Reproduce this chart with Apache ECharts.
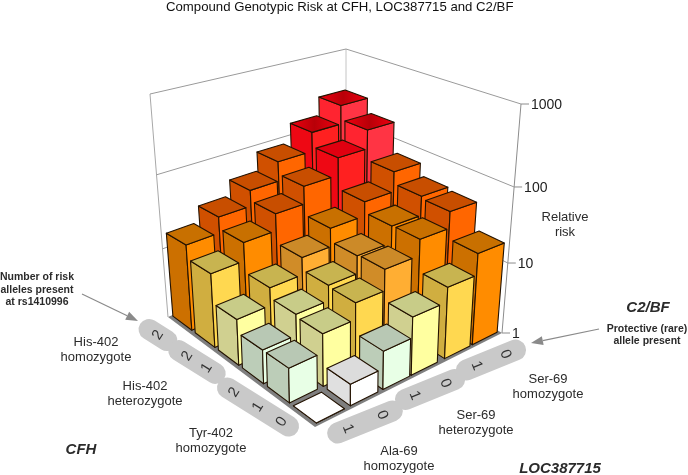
<!DOCTYPE html>
<html>
<head>
<meta charset="utf-8">
<script src="https://cdn.jsdelivr.net/npm/echarts@6/dist/echarts.min.js"></script>
<style>html,body{margin:0;background:#fff}#chart{width:688px;height:475px}</style>
</head>
<body>
<div id="chart"></div>
<script>
// relative risk: rows go from Tyr-402 0 (front) to His-402 homozygote 2 (back-left),
// columns from Ala-69 1 (front) to Ser-69 homozygote 0 (right)
const riskRows = [
  [1.0, 1.9, 3.2, 6.0, 9.4, 18.3],
  [2.8, 4.9, 8.1, 15.5, 25.4, 42.4],
  [2.8, 5.3, 8.5, 14.8, 24.8, 45.4],
  [4.2, 7.3, 12.5, 22.4, 35.1, 66.2],
  [10.5, 18.6, 31.6, 55.0, 95.0, 173.1],
  [16.2, 26.8, 44.0, 81.5, 149.4, 270.9]
];
const tickValues = [1, 10, 100, 1000];
const tickLabels = ['1', '10', '100', '1000'];
const cfhDigits = [['2'], ['2', '1'], ['2', '1', '0']];
const c2bfDigits = [['1', '0'], ['1', '0'], ['1', '0']];
const cfhGenotypes = ['His-402\nhomozygote', 'His-402\nheterozygote', 'Tyr-402\nhomozygote'];
const locGenotypes = ['Ala-69\nhomozygote', 'Ser-69\nheterozygote', 'Ser-69\nhomozygote'];

// colour steps by risk, faces are [top, left, right]
const riskBreaks = [1.5, 2.5, 3.5, 6.5, 11, 16, 26, 90, 160, Infinity];
const riskFaces = [
  ['#ffffff', '#ffffff', '#ffffff'],
  ['#dcdcdc', '#e0e0e0', '#ffffff'],
  ['#b8c8b4', '#bccdb8', '#e8ffe6'],
  ['#c8cc88', '#d0d090', '#ffffa0'],
  ['#c8b450', '#d0ae40', '#ffd850'],
  ['#cc8a28', '#d08c28', '#ffae33'],
  ['#c87000', '#cc7000', '#ff8c00'],
  ['#c84e00', '#d05000', '#ff6600'],
  ['#e00010', '#ee0814', '#ff2020'],
  ['#e00010', '#ff2430', '#ff3444']
];

const GRID_W = 600, GRID_H = 300;
const barStartU = [0.12, 1.15, 2.16, 3.06, 4.15, 5.08];
const barStartV = [0.1, 1.1, 2.1, 3.1, 4.1, 5.1];
const BAR_W = 0.85;

function makeHomography(p0, p1, p2, p3) {
  const sx = p0[0] - p1[0] + p2[0] - p3[0], sy = p0[1] - p1[1] + p2[1] - p3[1];
  const dx1 = p1[0] - p2[0], dx2 = p3[0] - p2[0], dy1 = p1[1] - p2[1], dy2 = p3[1] - p2[1];
  const det = dx1 * dy2 - dx2 * dy1;
  const g = (sx * dy2 - dx2 * sy) / det, h = (dx1 * sy - sx * dy1) / det;
  const a = p1[0] - p0[0] + g * p1[0], b = p3[0] - p0[0] + h * p3[0];
  const d = p1[1] - p0[1] + g * p1[1], e = p3[1] - p0[1] + h * p3[1];
  return (s, t) => {
    const w = g * s + h * t + 1;
    return [(a * s + b * t + p0[0]) / w, (d * s + e * t + p0[1]) / w];
  };
}
// corners of the floor and of the roof of the box, front / right / back / left
const floorAt = makeHomography([315, 427], [502, 333], [346, 240], [168, 317]);
const roofAt = makeHomography([312, 156], [521, 104], [346, 49], [150, 94]);

function project(u, v, zf) {
  const F = floorAt(u / 6, v / 6), T = roofAt(u / 6, v / 6);
  const k = zf * 0.88, d = 1 - zf + k;
  return [((1 - zf) * F[0] + k * T[0]) / d, ((1 - zf) * F[1] + k * T[1]) / d];
}
// height through the hidden log axis
function heightOf(api, risk) {
  return (GRID_H - api.coord([0, risk])[1]) / GRID_H;
}

function renderBar(params, api) {
  const u = api.value(0), risk = api.value(1), v = api.value(2);
  const u0 = barStartU[u], u1 = u0 + BAR_W, v0 = barStartV[v], v1 = v0 + BAR_W;
  const h = heightOf(api, risk);
  const faces = riskFaces[riskBreaks.findIndex(b => risk < b)];
  const stroke = { stroke: '#231200', lineWidth: 1.1, lineJoin: 'round' };
  let topFill = faces[0];
  if (risk > 140) {
    topFill = new echarts.graphic.LinearGradient(0, 0, 1, 0, [
      { offset: 0, color: '#f00010' }, { offset: 0.5, color: '#b80008' }, { offset: 1, color: '#f00010' }
    ]);
  }
  const poly = (pts, fill) => ({
    type: 'polygon',
    shape: { points: pts.map(p => project(p[0], p[1], p[2])) },
    style: Object.assign({ fill: fill }, stroke)
  });
  return {
    type: 'group',
    children: [
      poly([[u0, v0, 0], [u0, v1, 0], [u0, v1, h], [u0, v0, h]], faces[1]),
      poly([[u0, v0, 0], [u1, v0, 0], [u1, v0, h], [u0, v0, h]], faces[2]),
      poly([[u0, v0, h], [u1, v0, h], [u1, v1, h], [u0, v1, h]], topFill)
    ]
  };
}

function renderWallTick(params, api) {
  const risk = api.value(1), label = tickLabels[params.dataIndex];
  const h = heightOf(api, risk);
  const a = project(0, 6, h), b = project(6, 6, h), c = project(6, 0, h);
  const children = [
    { type: 'line', shape: { x1: c[0], y1: c[1], x2: c[0] + 8, y2: c[1] }, style: { stroke: '#8c8c8c', lineWidth: 1 } },
    { type: 'text', style: { text: label, x: c[0] + 10, y: c[1] + 1, font: '14px "Liberation Sans"', fill: '#222', align: 'left', verticalAlign: 'middle' } }
  ];
  if (params.dataIndex > 0) {
    children.unshift({ type: 'polyline', shape: { points: [a, b, c] }, style: { fill: 'none', stroke: '#9a9a9a', lineWidth: 1 } });
  }
  return { type: 'group', children: children };
}

function renderFrame(params, api) {
  const pts = [[0, 6, '#a8a8a8'], [6, 6, '#c4c4c4'], [6, 0, '#8c8c8c']];
  const edges = pts.map(p => {
    const a = project(p[0], p[1], 0), b = project(p[0], p[1], 1);
    return { type: 'line', shape: { x1: a[0], y1: a[1], x2: b[0], y2: b[1] }, style: { stroke: p[2], lineWidth: 1 } };
  });
  const floor = {
    type: 'polygon',
    shape: { points: [[0, 0], [6, 0], [6, 6], [0, 6]].map(p => project(p[0], p[1], 0)) },
    style: { fill: '#7f7f7f' }
  };
  return { type: 'group', children: edges.concat([floor]) };
}

// back to front so nearer bars paint over farther ones
const barData = [];
riskRows.forEach((row, v) => row.forEach((risk, u) => barData.push([u, risk, v])));
barData.sort((p, q) => (q[0] + q[2]) - (p[0] + p[2]));

function pill(cx, cy, len, deg, digits, gap, digitTurn) {
  const children = [{
    type: 'rect',
    shape: { x: -len / 2, y: -10.5, width: len, height: 21, r: 10.5 },
    style: { fill: '#c9c9c9' }
  }];
  digits.forEach((d, i) => {
    children.push({
      type: 'text',
      x: (i - (digits.length - 1) / 2) * gap,
      rotation: digitTurn,
      style: { text: d, x: 0, y: 0, font: '15px "Liberation Sans"', fill: '#333', align: 'center', verticalAlign: 'middle' }
    });
  });
  return { type: 'group', x: cx, y: cy, rotation: deg * Math.PI / 180, children: children };
}
function arrow(from, to) {
  const ang = Math.atan2(to[1] - from[1], to[0] - from[0]);
  const back = [to[0] - 12 * Math.cos(ang), to[1] - 12 * Math.sin(ang)];
  const nx = -Math.sin(ang) * 4.5, ny = Math.cos(ang) * 4.5;
  return [
    { type: 'line', shape: { x1: from[0], y1: from[1], x2: back[0], y2: back[1] }, style: { stroke: '#8a8a8a', lineWidth: 1.2 } },
    { type: 'polygon', shape: { points: [to, [back[0] + nx, back[1] + ny], [back[0] - nx, back[1] - ny]] }, style: { fill: '#8a8a8a' } }
  ];
}
function note(text, x, y, font, lh) {
  return { type: 'text', style: { text: text, x: x, y: y, font: font, lineHeight: lh, fill: '#2b2b2b', align: 'center', verticalAlign: 'middle' } };
}
const labelFont = '13px "Liberation Sans"';
const boldFont = 'bold 10.5px "Liberation Sans"';
const headFont = 'italic bold 15px "Liberation Sans"';

const chart = echarts.init(document.getElementById('chart'));
chart.setOption({
  animation: false,
  title: {
    text: 'Compound Genotypic Risk at CFH, LOC387715 and C2/BF',
    left: 161, top: -4,
    textStyle: { fontFamily: 'Liberation Sans', fontSize: 13.2, fontWeight: 'normal', color: '#111' }
  },
  grid: { left: 0, top: 0, width: GRID_W, height: GRID_H, show: false },
  xAxis: { type: 'value', min: 0, max: 6, show: false },
  yAxis: { type: 'log', logBase: 10, min: 1, max: 1000, show: false },
  graphic: [].concat(
    [
      pill(158, 335, 42, -32, cfhDigits[0], 0, Math.PI / 2),
      pill(197, 362, 64, -32, cfhDigits[1], 23, Math.PI / 2),
      pill(258, 407, 93, -32, cfhDigits[2], 28, Math.PI / 2),
      pill(365, 422, 80, 22, c2bfDigits[0], 37, -Math.PI / 2),
      pill(430, 389.5, 74, 22, c2bfDigits[1], 33, -Math.PI / 2),
      pill(491, 360, 74, 22, c2bfDigits[2], 31, -Math.PI / 2),
      note(cfhGenotypes[0], 96, 350, labelFont, 15),
      note(cfhGenotypes[1], 145, 394, labelFont, 15),
      note(cfhGenotypes[2], 211, 441, labelFont, 15),
      note(locGenotypes[0], 399, 459, labelFont, 15),
      note(locGenotypes[1], 476, 423, labelFont, 15),
      note(locGenotypes[2], 548, 387, labelFont, 15),
      note('CFH', 81, 450, headFont, 16),
      note('LOC387715', 560, 469, headFont, 16),
      note('C2/BF', 648, 308, headFont, 16),
      note('Protective (rare)\nallele present', 647, 335, boldFont, 12.5),
      note('Number of risk\nalleles present\nat rs1410996', 37, 290, boldFont, 12.5),
      note('Relative\nrisk', 565, 225, labelFont, 15)
    ],
    arrow([82, 294], [138, 321]),
    arrow([599, 329], [531, 343])
  ),
  series: [
    { type: 'custom', name: 'frame', silent: true, renderItem: renderFrame, data: [[0, 1]], encode: { x: 0, y: 1 }, clip: false, z: 1 },
    { type: 'custom', name: 'ticks', silent: true, renderItem: renderWallTick, data: tickValues.map(t => [0, t]), encode: { x: 0, y: 1 }, clip: false, z: 2 },
    { type: 'custom', name: 'risk', silent: true, renderItem: renderBar, data: barData, encode: { x: 0, y: 1 }, clip: false, z: 3 }
  ]
});
</script>
</body>
</html>
